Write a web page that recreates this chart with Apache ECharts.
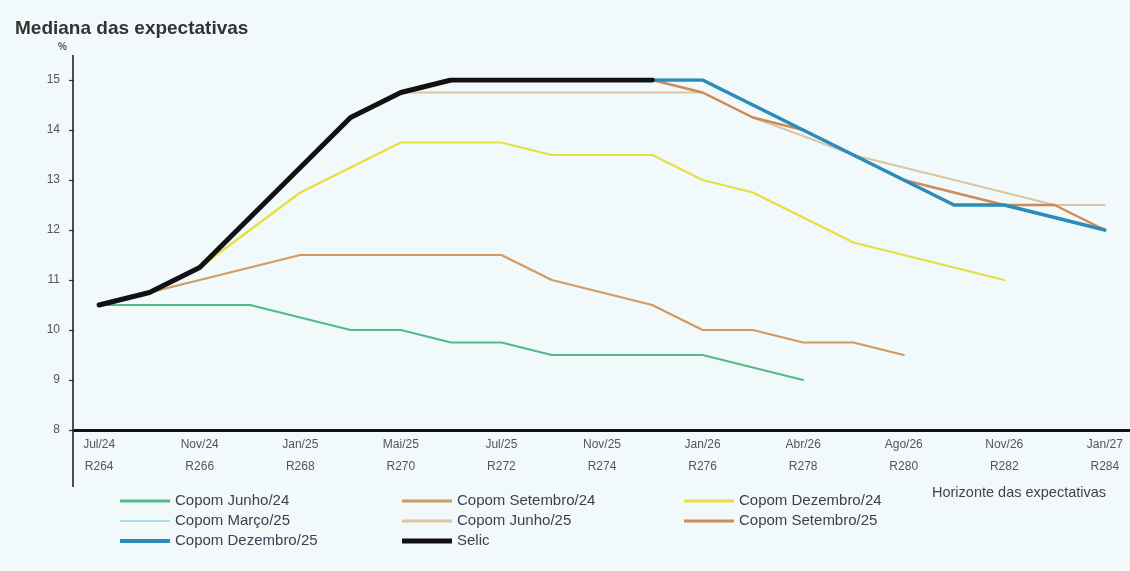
<!DOCTYPE html>
<html>
<head>
<meta charset="utf-8">
<script src="https://cdn.jsdelivr.net/npm/echarts@6/dist/echarts.min.js"></script>
<style>
html,body{margin:0;padding:0;background:#F2F9FA;}
#chart{width:1130px;height:571px;}
</style>
</head>
<body>
<div id="chart"></div>
<script>
// Horizonte das expectativas (reuniões do Copom)
const months = ['Jul/24','Set/24','Nov/24','Dez/24','Jan/25','Mar/25','Mai/25','Jun/25','Jul/25','Set/25','Nov/25','Dez/25','Jan/26','Mar/26','Abr/26','Jun/26','Ago/26','Set/26','Nov/26','Dez/26','Jan/27'];
const meetings = ['R264','R265','R266','R267','R268','R269','R270','R271','R272','R273','R274','R275','R276','R277','R278','R279','R280','R281','R282','R283','R284'];
const yTicks = [8, 9, 10, 11, 12, 13, 14, 15];
const seriesNames = ['Copom Junho/24','Copom Setembro/24','Copom Dezembro/24','Copom Março/25','Copom Junho/25','Copom Setembro/25','Copom Dezembro/25','Selic'];

const _ = null;
const copomJun24 = [10.5,10.5,10.5,10.5,10.25,10.0,10.0,9.75,9.75,9.5,9.5,9.5,9.5,9.25,9.0,_,_,_,_,_,_];
const copomSet24 = [_,10.75,11.0,11.25,11.5,11.5,11.5,11.5,11.5,11.0,10.75,10.5,10.0,10.0,9.75,9.75,9.5,_,_,_,_];
const copomDez24 = [_,_,11.25,12.0,12.75,13.25,13.75,13.75,13.75,13.5,13.5,13.5,13.0,12.75,12.25,11.75,11.5,11.25,11.0,_,_];
const copomMar25 = [_,_,_,_,_,14.25,14.75,15.0,15.0,15.0,15.0,15.0,_,_,_,_,_,_,_,_,_];
const copomJun25 = [_,_,_,_,_,_,14.75,14.75,14.75,14.75,14.75,14.75,14.75,14.25,13.88,13.5,13.25,13.0,12.75,12.5,12.5];
const copomSet25 = [_,_,_,_,_,_,_,_,_,15.0,15.0,15.0,14.75,14.25,14.0,13.5,13.0,12.75,12.5,12.5,12.0];
const copomDez25 = [_,_,_,_,_,_,_,_,_,_,_,15.0,15.0,14.5,14.0,13.5,13.0,12.5,12.5,12.25,12.0];
const selic      = [10.5,10.75,11.25,12.25,13.25,14.25,14.75,15.0,15.0,15.0,15.0,15.0,_,_,_,_,_,_,_,_,_];

const FONT = "'Liberation Sans', Arial, sans-serif";

function line(name, data, color, width, z) {
  return {
    name: name, type: 'line', data: data, z: z,
    showSymbol: false, symbol: 'none', connectNulls: false,
    lineStyle: { color: color, width: width, cap: 'round', join: 'round' },
    itemStyle: { color: color },
    emphasis: { disabled: true }
  };
}

// legend layout: [series index, left, row, icon height]
const legendLayout = [
  [0, 120, 0, 3], [1, 402, 0, 3], [2, 684, 0, 3],
  [3, 120, 1, 2], [4, 402, 1, 3], [5, 684, 1, 3],
  [6, 120, 2, 4], [7, 402, 2, 5]
];
const rowCenters = [501, 521, 541];
const legends = legendLayout.map(function (l) {
  return {
    data: [seriesNames[l[0]]], left: l[1], top: rowCenters[l[2]] - 8,
    orient: 'horizontal', itemWidth: 50, itemHeight: l[3], icon: 'rect',
    padding: 0, selectedMode: false,
    textStyle: { fontSize: 15, color: '#403c52', fontFamily: FONT, lineHeight: 16 }
  };
});

const chart = echarts.init(document.getElementById('chart'));
chart.setOption({
  backgroundColor: '#F2F9FA',
  animation: false,
  textStyle: { fontFamily: FONT },
  title: {
    text: 'Mediana das expectativas', left: 10, top: 14,
    textStyle: { fontSize: 19, fontWeight: 'bold', color: '#333', fontFamily: FONT }
  },
  legend: legends,
  grid: { left: 74, right: 0, top: 80, bottom: 141 },
  xAxis: {
    type: 'category', data: months, boundaryGap: true,
    axisLine: { lineStyle: { color: '#111', width: 3 } },
    axisTick: { show: false },
    axisLabel: {
      interval: 1, margin: 4, fontSize: 12, lineHeight: 22, color: '#555',
      formatter: function (v, i) { return months[i] + '\n' + meetings[i]; }
    },
    splitLine: { show: false }
  },
  yAxis: {
    type: 'value', min: yTicks[0], max: yTicks[yTicks.length - 1], interval: 1,
    axisLine: { show: false },
    axisTick: { show: true, length: 5, lineStyle: { color: '#333', width: 1.2 } },
    axisLabel: { margin: 14, fontSize: 12, color: '#555' },
    splitLine: { show: false }
  },
  graphic: [
    { type: 'line', shape: { x1: 73, y1: 55, x2: 73, y2: 487 }, style: { stroke: '#222', lineWidth: 1.6 }, z: 10 },
    { type: 'text', left: 58, top: 42, style: { text: '%', fontSize: 10, fontWeight: 'bold', fill: '#555', fontFamily: FONT } },
    { type: 'text', left: 932, top: 485, style: { text: 'Horizonte das expectativas', fontSize: 14.5, fill: '#444', fontFamily: FONT } }
  ],
  series: [
    line(seriesNames[0], copomJun24, '#55B98A', 2, 2),
    line(seriesNames[1], copomSet24, '#D09A62', 2.2, 2),
    line(seriesNames[2], copomDez24, '#E5E040', 2.2, 2),
    line(seriesNames[3], copomMar25, '#A9DCEB', 2, 2),
    line(seriesNames[4], copomJun25, '#D9C6A5', 2, 2),
    line(seriesNames[5], copomSet25, '#D08A5A', 2.5, 3),
    line(seriesNames[6], copomDez25, '#2A8CB8', 3.5, 4),
    line(seriesNames[7], selic, '#111111', 5, 5)
  ]
});
</script>
</body>
</html>
